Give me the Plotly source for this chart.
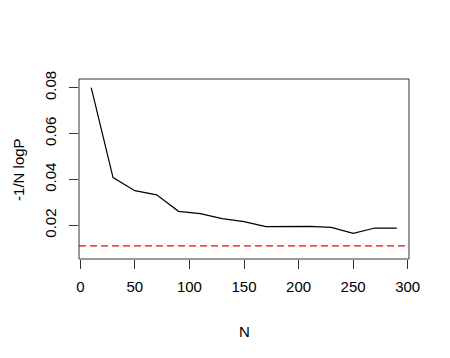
import plotly.graph_objects as go

# N values and -1/N logP
n_vals = [10, 30, 50, 70, 90, 110, 130, 150, 170, 190, 210, 230, 250, 270, 290]
score = [0.0800, 0.0408, 0.0351, 0.0333, 0.0261, 0.0251, 0.0229, 0.0216,
         0.0194, 0.0195, 0.0195, 0.0191, 0.0165, 0.0188, 0.0188]
ref_level = 0.011
x_ticks = [0, 50, 100, 150, 200, 250, 300]
y_ticks = [0.02, 0.04, 0.06, 0.08]

fig = go.Figure()
fig.add_trace(go.Scatter(x=n_vals, y=score, mode="lines",
                         line=dict(color="black", width=1.2), showlegend=False))
fig.add_hline(y=ref_level, line=dict(color="red", width=1.3, dash="7px,4px"))

# box around the plot region
fig.add_shape(type="rect", xref="paper", yref="paper", x0=0, y0=0, x1=1, y1=1,
              line=dict(color="#333333", width=1))

font = dict(family="Liberation Sans, Arial, sans-serif", size=15, color="black")

fig.update_xaxes(range=[-1.2, 301.2], tickvals=x_ticks, ticktext=[str(v) for v in x_ticks],
                 ticks="outside", ticklen=9, tickcolor="#333333", showgrid=False,
                 zeroline=False, showline=False, tickfont=font, ticklabelstandoff=5,
                 automargin=False)
fig.update_yaxes(range=[0.0053, 0.0838], tickvals=y_ticks,
                 ticktext=[f"{v:.2f}" for v in y_ticks], tickangle=-90,
                 ticks="outside", ticklen=9, tickcolor="#333333", showgrid=False,
                 zeroline=False, showline=False, tickfont=font, ticklabelstandoff=7,
                 automargin=False)

fig.add_annotation(text="N", xref="paper", yref="paper", x=0.5, y=-0.4,
                   showarrow=False, font=font, yanchor="middle")
fig.add_annotation(text="-1/N logP", xref="paper", yref="paper", x=-0.185, y=0.5,
                   showarrow=False, font=font, textangle=-90, xanchor="center")

# page body has an 8px margin, so the figure is 8px smaller each way
fig.update_layout(width=442, height=350, margin=dict(l=71, r=41, t=71, b=99),
                  plot_bgcolor="white", paper_bgcolor="white")

fig.write_html("out.html")
